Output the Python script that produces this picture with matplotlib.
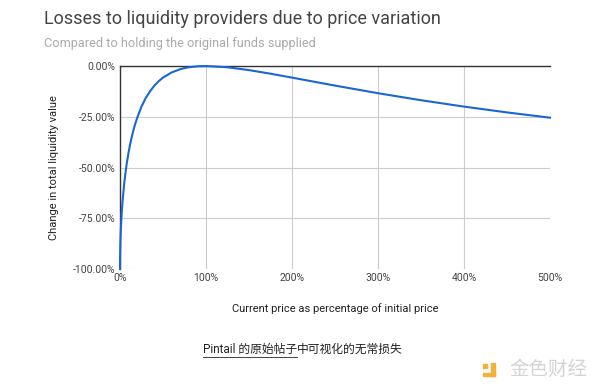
import matplotlib
matplotlib.use("Agg")
import matplotlib.pyplot as plt
from matplotlib.patches import Rectangle

# price as % of initial price, and change in liquidity value (%)
price_pct = [0, 0.1, 0.5, 1, 2, 3, 5, 7, 8, 10, 12, 15, 17, 20, 25, 30, 35, 40, 45, 50,
             60, 70, 75, 80, 90, 100, 125, 150, 175, 200, 250, 300, 350, 400, 450, 500]
change_pct = [-100, -93.7, -85.9, -80.2, -72.3, -66.4, -57.4, -50.6, -47.6, -42.5, -38.1,
              -32.6, -29.5, -25.5, -20.0, -15.7, -12.4, -9.65, -7.48, -5.72,
              -3.18, -1.57, -1.03, -0.62, -0.14, 0.0, -0.62, -2.02, -3.79, -5.72,
              -9.65, -13.4, -16.85, -20.0, -22.86, -25.46]

x_ticks = [0, 100, 200, 300, 400, 500]
y_ticks = [0, -25, -50, -75, -100]

plt.rcParams["font.family"] = ["Roboto", "Noto Sans CJK SC", "DejaVu Sans"]

fig = plt.figure(figsize=(6, 3.89), dpi=100)
ax = fig.add_axes([0.2, 0.3085, 0.7167, 0.5218])

ax.plot(price_pct, change_pct, color="#1a66d4", lw=1.5, zorder=3, clip_on=False)

ax.set_xlim(0, 500)
ax.set_ylim(-100, 0)
ax.set_xticks(x_ticks)
ax.set_xticklabels([f"{t}%" for t in x_ticks])
ax.set_yticks(y_ticks)
ax.set_yticklabels([f"{t:.2f}%" for t in y_ticks])
ax.tick_params(length=0, labelsize=7.5, colors="#444444", pad=3)
ax.grid(True, color="#cccccc", lw=0.8)
for s in ["right", "bottom"]:
    ax.spines[s].set_visible(False)
for s in ["left", "top"]:
    ax.spines[s].set_color("#333333")
    ax.spines[s].set_linewidth(1.0)

ax.set_xlabel("Current price as percentage of initial price", fontsize=8, color="#222222", labelpad=14)
ax.set_ylabel("Change in total liquidity value", fontsize=8, color="#222222", labelpad=10)

fig.text(44 / 600, 1 - 19 / 389, "Losses to liquidity providers due to price variation",
         fontsize=13, color="#444444", va="center", ha="left")
fig.text(44 / 600, 1 - 44 / 389, "Compared to holding the original funds supplied",
         fontsize=9.2, color="#aaaaaa", va="center", ha="left")

# caption, with underlined link part
cap_size = 8.5
t1 = fig.text(203 / 600, 1 - 349 / 389, "Pintail 的原始帖子", fontsize=cap_size, color="#222222",
              va="center", ha="left")
fig.canvas.draw()
bb = t1.get_window_extent()
fig.add_artist(plt.Line2D([bb.x0 / 600, bb.x1 / 600], [(bb.y0 - 1) / 389, (bb.y0 - 1) / 389],
                          color="#222222", lw=0.6))
fig.text(bb.x1 / 600, 1 - 349 / 389, "中可视化的无常损失", fontsize=cap_size, color="#222222",
         va="center", ha="left")

# watermark
orange = "#f2b23c"
for (x0, y0, w, h) in [(483, 364, 4, 4), (491, 363, 4, 13), (483, 373, 12, 3)]:
    fig.patches.append(Rectangle((x0 / 600, 1 - (y0 + h) / 389), w / 600, h / 389,
                                 transform=fig.transFigure, color=orange))
fig.text(509 / 600, 1 - 370 / 389, "金色财经", fontsize=14, color="#d4d4d4",
         va="center", ha="left")

fig.savefig("out.png", dpi=100)
